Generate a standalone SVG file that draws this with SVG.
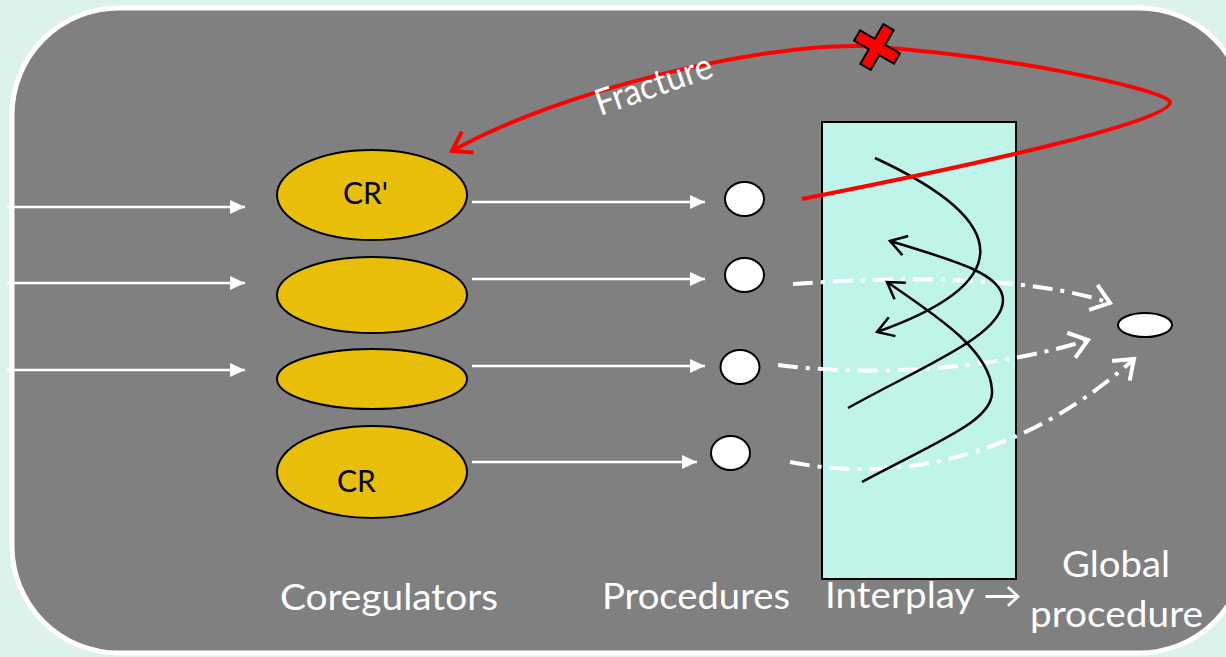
<svg xmlns="http://www.w3.org/2000/svg" width="1226" height="657" viewBox="0 0 1226 657">
<style>
.lbl{font-family:Lato,"Liberation Sans","DejaVu Sans",sans-serif;fill:#fff;font-size:36px}
.crt{font-family:Lato,"Liberation Sans",sans-serif;fill:#000;font-size:30px}
.cor{fill:#E8BE08;stroke:#000;stroke-width:2}
.proc{fill:#fff;stroke:#000;stroke-width:2}
.wline{stroke:#fff;stroke-width:2.5;fill:none}
.dd{stroke:#fff;stroke-width:4;fill:none;stroke-dasharray:20 8 4 8}
.blk{stroke:#000;stroke-width:2.5;fill:none}
.red{stroke:#f00;stroke-width:4;fill:none}
</style>
<defs>
<marker id="wtri" markerUnits="userSpaceOnUse" viewBox="0 0 15 14" refX="15" refY="7" markerWidth="15" markerHeight="14" orient="auto">
<path d="M0,0 L15,7 L0,14 z" fill="#fff"/>
</marker>
<marker id="wopen" markerUnits="userSpaceOnUse" viewBox="-22 -16 26 32" refX="0" refY="0" markerWidth="26" markerHeight="32" orient="auto" overflow="visible">
<path d="M-16,-12 L0,0 L-16,12" fill="none" stroke="#fff" stroke-width="4" stroke-linecap="square"/>
</marker>
<marker id="bopen" markerUnits="userSpaceOnUse" viewBox="-20 -14 24 28" refX="0" refY="0" markerWidth="24" markerHeight="28" orient="auto" overflow="visible">
<path d="M-16,-10 L0,0 L-16,10" fill="none" stroke="#000" stroke-width="2.5"/>
</marker>
<marker id="ropen" markerUnits="userSpaceOnUse" viewBox="-22 -16 26 32" refX="0" refY="0" markerWidth="26" markerHeight="32" orient="auto" overflow="visible">
<path d="M-18,-12 L0,0 L-18,12" fill="none" stroke="#f00" stroke-width="4"/>
</marker>
</defs>
<rect x="0" y="0" width="1226" height="657" fill="#DDF2E9"/>
<rect id="frame" x="12" y="8" width="1234" height="645" rx="107" ry="107" fill="#808080" stroke="#fff" stroke-width="5"/>

<g id="interplay">
<rect x="822" y="122" width="194" height="457" fill="#BEF5E8" stroke="#000" stroke-width="2"/>
</g>

<g id="coregulators">
<g id="cr-prime"><ellipse class="cor" cx="372" cy="195" rx="95" ry="45"/><text class="crt" x="343" y="204" textLength="45" lengthAdjust="spacingAndGlyphs">CR'</text></g>
<g id="cr-2"><ellipse class="cor" cx="372" cy="295" rx="95" ry="38"/></g>
<g id="cr-3"><ellipse class="cor" cx="372" cy="379" rx="95" ry="30"/></g>
<g id="cr"><ellipse class="cor" cx="372" cy="472" rx="95" ry="46"/><text class="crt" x="337" y="492" textLength="39" lengthAdjust="spacingAndGlyphs">CR</text></g>
</g>

<g id="procedures">
<ellipse id="p1" class="proc" cx="744.5" cy="199" rx="19.5" ry="17"/>
<ellipse id="p2" class="proc" cx="744.5" cy="275" rx="19.5" ry="17"/>
<ellipse id="p3" class="proc" cx="740" cy="367" rx="19.5" ry="17"/>
<ellipse id="p4" class="proc" cx="730.5" cy="453" rx="19.5" ry="17"/>
</g>

<g id="global">
<ellipse class="proc" cx="1145" cy="325" rx="27" ry="12"/>
</g>

<g id="connectors">
<line class="wline" x1="7" y1="207" x2="245" y2="207" marker-end="url(#wtri)"/>
<line class="wline" x1="7" y1="283" x2="245" y2="283" marker-end="url(#wtri)"/>
<line class="wline" x1="7" y1="370" x2="245" y2="370" marker-end="url(#wtri)"/>
<line class="wline" x1="472" y1="202" x2="705" y2="202" marker-end="url(#wtri)"/>
<line class="wline" x1="472" y1="279" x2="705" y2="279" marker-end="url(#wtri)"/>
<line class="wline" x1="472" y1="366" x2="705" y2="366" marker-end="url(#wtri)"/>
<line class="wline" x1="472" y1="462" x2="697" y2="462" marker-end="url(#wtri)"/>

<path class="dd" d="M793,284 C900,276 1030,276 1110,303" marker-end="url(#wopen)"/>
<path class="dd" d="M778,365 C880,378 1000,368 1088,340" marker-end="url(#wopen)"/>
<path class="dd" d="M790,462 C880,480 1010,470 1134,359" marker-end="url(#wopen)"/>

<path class="blk" d="M875,158 C1020,225 1010,285 877,332" marker-end="url(#bopen)"/>
<path class="blk" d="M848,408 C925,365 1003,335 1003,300 C1003,275 960,262 890,241" marker-end="url(#bopen)"/>
<path class="blk" d="M862,482 C940,440 995,420 992,390 C990,350 935,315 887,282" marker-end="url(#bopen)"/>

<path class="red" d="M802,199 C1000,160 1172,120 1170,102 C1165,90 1010,55 860,46 C760,44 560,90 452,151" marker-end="url(#ropen)"/>
<text class="lbl" x="600" y="116" font-size="29" transform="rotate(-19 600 116)" textLength="122" lengthAdjust="spacingAndGlyphs">Fracture</text>
<polygon transform="translate(877,47) rotate(30)" points="-6,-23 6,-23 6,-6 23,-6 23,6 6,6 6,23 -6,23 -6,6 -23,6 -23,-6 -6,-6" fill="#f00" stroke="#000" stroke-width="2" stroke-linejoin="miter"/>
</g>

<g id="labels">
<text class="lbl" x="280" y="610" textLength="218" lengthAdjust="spacingAndGlyphs">Coregulators</text>
<text class="lbl" x="602" y="609" textLength="188" lengthAdjust="spacingAndGlyphs">Procedures</text>
<text class="lbl" x="825" y="608" textLength="197" lengthAdjust="spacingAndGlyphs">Interplay →</text>
<text class="lbl" x="1062" y="577" textLength="108" lengthAdjust="spacingAndGlyphs">Global</text>
<text class="lbl" x="1030" y="627" textLength="173" lengthAdjust="spacingAndGlyphs">procedure</text>
</g>
</svg>
